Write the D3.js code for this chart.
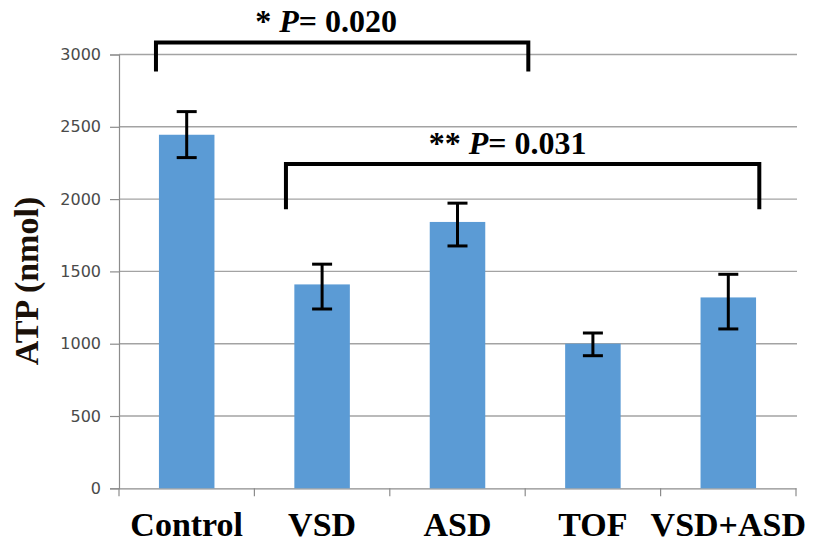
<!DOCTYPE html>
<html>
<head>
<meta charset="utf-8">
<script src="https://cdn.jsdelivr.net/npm/d3@7"></script>
<style>
  html, body { margin: 0; padding: 0; background: #fff; }
  svg { display: block; }
</style>
</head>
<body>
<svg id="chart" width="821" height="543"></svg>
<script>
// ---- data ----
const categories = ["Control", "VSD", "ASD", "TOF", "VSD+ASD"];
const atpMeans   = [2445, 1410, 1842, 1000, 1320];
const errLow     = [2287, 1240, 1676,  917, 1102];
const errHigh    = [2605, 1550, 1972, 1074, 1480];
const yTicks     = [0, 500, 1000, 1500, 2000, 2500, 3000];

// significance brackets
const bracketStars  = ["*", "**"];
const bracketP      = ["0.020", "0.031"];
const bracketFrom   = ["Control", "VSD"];
const bracketTo     = ["TOF", "VSD+ASD"];
const bracketTop    = [3083, 2242];
const bracketBottom = [2882, 1930];

// ---- layout ----
const W = 821, H = 543;
const margin = { top: 54.5, right: 25, bottom: 54.7, left: 119 };
const svg = d3.select("#chart");

const x = d3.scaleBand().domain(categories)
  .range([margin.left, W - margin.right]).paddingInner(0).paddingOuter(0);
const y = d3.scaleLinear().domain([0, 3000])
  .range([H - margin.bottom, margin.top]);

// gridlines
svg.append("g")
  .selectAll("line").data(yTicks.filter(d => d > 0)).join("line")
  .attr("x1", margin.left).attr("x2", W - margin.right + 1)
  .attr("y1", d => y(d)).attr("y2", d => y(d))
  .attr("stroke", "#a3a3a3").attr("stroke-width", 1.4);

// y axis
const yAxis = svg.append("g")
  .attr("transform", `translate(${margin.left},0)`)
  .call(d3.axisLeft(y).tickValues(yTicks).tickSize(9).tickPadding(9).tickFormat(d3.format("d")));
yAxis.select(".domain").attr("stroke", "#8c8c8c").attr("stroke-width", 1.2);
yAxis.selectAll(".tick line").attr("stroke", "#8c8c8c").attr("stroke-width", 1.2);
yAxis.selectAll(".tick text")
  .attr("font-family", "DejaVu Sans, Verdana, sans-serif")
  .attr("font-size", 16).attr("fill", "#4a4a4a");

// x axis
const xAxis = svg.append("g")
  .attr("transform", `translate(0,${y(0)})`)
  .call(d3.axisBottom(x).tickSize(0).tickFormat(""));
xAxis.select(".domain").attr("stroke", "#8c8c8c").attr("stroke-width", 1.2);
// category boundary ticks
const bounds = categories.map(c => x(c)).concat([x(categories[categories.length - 1]) + x.bandwidth()]);
xAxis.selectAll(".btick").data(bounds).join("line")
  .attr("class", "btick")
  .attr("x1", d => d).attr("x2", d => d)
  .attr("y1", 0).attr("y2", 8)
  .attr("stroke", "#8c8c8c").attr("stroke-width", 1.2);

// bars
const barW = x.bandwidth() * 0.41;
svg.append("g").selectAll("rect").data(categories).join("rect")
  .attr("x", c => x(c) + x.bandwidth() / 2 - barW / 2)
  .attr("width", barW)
  .attr("y", (c, i) => y(atpMeans[i]))
  .attr("height", (c, i) => y(0) - y(atpMeans[i]))
  .attr("fill", "#5b9bd5");

// error bars
const capW = 20;
const eg = svg.append("g").attr("stroke", "#000").attr("stroke-width", 3);
categories.forEach((c, i) => {
  const cx = x(c) + x.bandwidth() / 2;
  eg.append("line").attr("x1", cx).attr("x2", cx).attr("y1", y(errHigh[i])).attr("y2", y(errLow[i]));
  eg.append("line").attr("x1", cx - capW / 2).attr("x2", cx + capW / 2).attr("y1", y(errHigh[i])).attr("y2", y(errHigh[i]));
  eg.append("line").attr("x1", cx - capW / 2).attr("x2", cx + capW / 2).attr("y1", y(errLow[i])).attr("y2", y(errLow[i]));
});

// x labels
svg.append("g").selectAll("text").data(categories).join("text")
  .attr("x", c => x(c) + x.bandwidth() / 2)
  .attr("y", 536)
  .attr("text-anchor", "middle")
  .attr("font-family", "Liberation Serif, Times New Roman, serif")
  .attr("font-weight", "bold")
  .attr("font-size", 34)
  .attr("fill", "#000")
  .text(c => c);

// y title
svg.append("text")
  .attr("transform", `translate(38,281) rotate(-90)`)
  .attr("text-anchor", "middle")
  .attr("font-family", "Liberation Serif, Times New Roman, serif")
  .attr("font-weight", "bold")
  .attr("font-size", 34)
  .attr("fill", "#1a1008")
  .text("ATP (nmol)");

// brackets (offsets are layout fractions of a band)
const fromOff = [0.273, 0.233];
const toOff   = [0.023, 0.729];
const labelShift = [-16, -15];
const bg = svg.append("g");
bracketStars.forEach((s, i) => {
  const x1 = x(bracketFrom[i]) + fromOff[i] * x.bandwidth();
  const x2 = x(bracketTo[i]) + toOff[i] * x.bandwidth();
  const yt = y(bracketTop[i]), yb = y(bracketBottom[i]);
  bg.append("path")
    .attr("d", `M${x1},${yb} L${x1},${yt} L${x2},${yt} L${x2},${yb}`)
    .attr("fill", "none").attr("stroke", "#000").attr("stroke-width", 4)
    .attr("stroke-linejoin", "miter");
  const t = bg.append("text")
    .attr("x", (x1 + x2) / 2 + labelShift[i])
    .attr("y", yt - 10)
    .attr("text-anchor", "middle")
    .attr("font-family", "Liberation Serif, Times New Roman, serif")
    .attr("font-weight", "bold")
    .attr("font-size", 32)
    .attr("fill", "#000");
  t.append("tspan").text(s + " ");
  t.append("tspan").attr("font-style", "italic").text("P");
  t.append("tspan").text("= " + bracketP[i]);
});
</script>
</body>
</html>
